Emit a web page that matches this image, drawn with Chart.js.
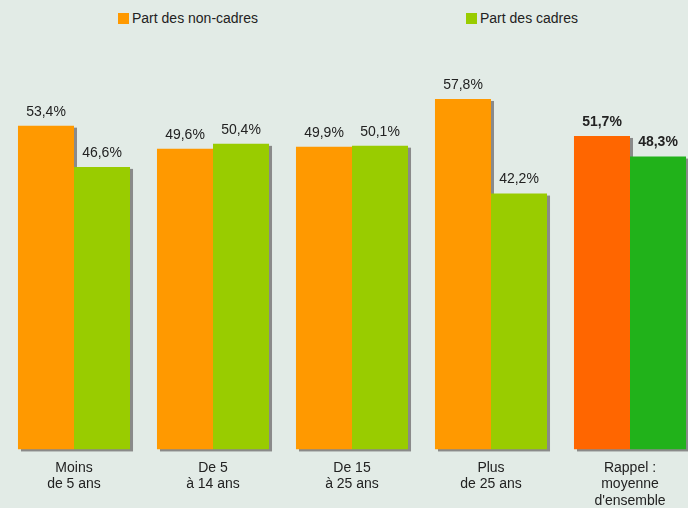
<!DOCTYPE html>
<html lang="fr">
<head>
  <meta charset="UTF-8" />
  <title>Part des cadres et non-cadres</title>
  <script src="https://cdn.jsdelivr.net/npm/chart.js"></script>
  <style>
    html, body { margin: 0; padding: 0; overflow: hidden; background: #e2ebe6; }
    body { width: 688px; height: 508px; position: relative; font-family: 'Liberation Sans', Arial, sans-serif; }
    .legend { position: absolute; top: 10px; left: 0; font-size: 14px; color: #222; }
    .legend span { position: absolute; white-space: nowrap; line-height: 17px; }
    .legend i { display: inline-block; width: 11px; height: 11px; margin-right: 3px; vertical-align: -1px; }
    #wrap { position: absolute; left: 0; top: 0; width: 704px; height: 511px; }
  </style>
</head>
<body>
<div class="legend">
  <span style="left:118px"><i style="background:#ff9900"></i>Part des non-cadres</span>
  <span style="left:466px"><i style="background:#99cc00"></i>Part des cadres</span>
</div>
<div id="wrap"><canvas id="chart" width="704" height="511"></canvas></div>

<script>
const categories = [
  ['Moins', 'de 5 ans'],
  ['De 5', 'à 14 ans'],
  ['De 15', 'à 25 ans'],
  ['Plus', 'de 25 ans'],
  ['Rappel :', 'moyenne', "d'ensemble"]
];
const nonCadres = [53.4, 49.6, 49.9, 57.8, 51.7];
const cadres = [46.6, 50.4, 50.1, 42.2, 48.3];
const nonCadresColors = ['#ff9900', '#ff9900', '#ff9900', '#ff9900', '#ff6600'];
const cadresColors = ['#99cc00', '#99cc00', '#99cc00', '#99cc00', '#21b21a'];

const fmt = v => v.toFixed(1).replace('.', ',') + '%';

// grey drop shadows, all drawn before any bar so neighbours cover them
const shadowPlugin = {
  id: 'shadow',
  beforeDatasetsDraw(chart) {
    const ctx = chart.ctx;
    ctx.save();
    ctx.fillStyle = '#8a8a8a';
    chart.data.datasets.forEach((ds, di) => {
      chart.getDatasetMeta(di).data.forEach(bar => {
        const p = bar.getProps(['x', 'y', 'base', 'width'], true);
        ctx.fillRect(p.x - p.width / 2 + 3, p.y + 2, p.width, p.base - p.y);
      });
    });
    ctx.restore();
  }
};

// value labels above each bar
const valuePlugin = {
  id: 'values',
  afterDatasetsDraw(chart) {
    const ctx = chart.ctx;
    ctx.save();
    ctx.fillStyle = '#222';
    ctx.textAlign = 'center';
    ctx.textBaseline = 'bottom';
    chart.data.datasets.forEach((ds, di) => {
      chart.getDatasetMeta(di).data.forEach((bar, i) => {
        const last = i === ds.data.length - 1;
        ctx.font = (last ? 'bold ' : '') + '14px "Liberation Sans", Arial, sans-serif';
        ctx.fillText(fmt(ds.data[i]), bar.x, bar.y - 7);
      });
    });
    ctx.restore();
  }
};

new Chart(document.getElementById('chart'), {
  type: 'bar',
  data: {
    labels: categories,
    datasets: [
      { label: 'Part des non-cadres', data: nonCadres, backgroundColor: nonCadresColors },
      { label: 'Part des cadres', data: cadres, backgroundColor: cadresColors }
    ]
  },
  options: {
    responsive: false,
    animation: false,
    layout: { padding: { left: 4.5, right: 4.5, top: 25, bottom: 0 } },
    datasets: { bar: { barPercentage: 1, categoryPercentage: 0.806 } },
    plugins: { legend: { display: false }, tooltip: { enabled: false } },
    scales: {
      x: {
        grid: { display: false },
        border: { display: false },
        ticks: {
          color: '#222',
          padding: 2,
          maxRotation: 0,
          autoSkip: false,
          font: { family: '"Liberation Sans", Arial, sans-serif', size: 14, lineHeight: 1.18 }
        }
      },
      y: { display: false, min: 0, max: 70 }
    }
  },
  plugins: [shadowPlugin, valuePlugin]
});
</script>
</body>
</html>
